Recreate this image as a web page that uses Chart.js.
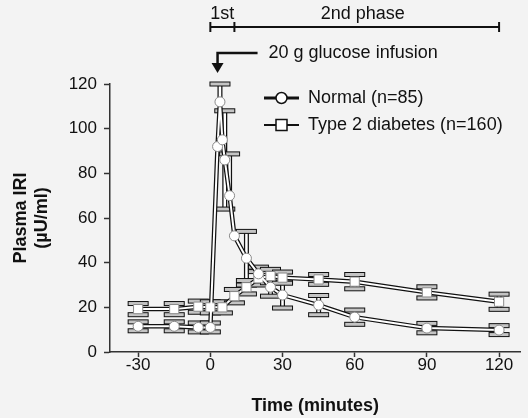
<!DOCTYPE html>
<html>
<head>
<meta charset="utf-8">
<script src="https://cdn.jsdelivr.net/npm/chart.js@4.4.1/dist/chart.umd.min.js"></script>
<style>
  html, body { margin: 0; padding: 0; background: #f3f3f3; }
  #wrap { width: 528px; height: 418px; }
</style>
</head>
<body>
<div id="wrap"><canvas id="iriChart" width="528" height="418"></canvas></div>
<script>
const xTicks = [-30, 0, 30, 60, 90, 120];
const yTicks = [0, 20, 40, 60, 80, 100, 120];

// Normal subjects (circles)
const normalTime   = [-30, -15, -5, 0, 3, 4, 5, 6, 8, 10, 15, 20, 25, 30, 45, 60, 90, 120];
const normalIRI    = [11.5, 11.5, 11, 11, 92, 112, 95, 86, 70, 52, 42, 35, 29, 25.5, 21, 15.6, 10.7, 9.8];
const normalErrUp  = [2, 2, 2, 2, 0, 8, 0, 22, 18.7, 0, 12, 3, 4, 5.8, 4.3, 3.2, 2.1, 2];
const normalErrLow = [2, 2, 2, 2, 0, 0, 0, 22, 0, 0, 12, 3, 4, 5.8, 4.3, 3.2, 2.1, 2];

// Type 2 diabetes (squares)
const diabTime = [-30, -15, -5, 0, 5, 10, 15, 20, 25, 30, 45, 60, 90, 120];
const diabIRI  = [19.2, 19.2, 20.3, 20, 20, 25, 29, 33, 34, 33.3, 32.5, 31.5, 26.7, 22.5];
const diabErr  = [2.5, 2.5, 2.5, 2.5, 2.5, 3, 3, 3, 3, 2.5, 2.2, 3.2, 2.5, 3.4];

const seriesLabels = ['Normal (n=85)', 'Type 2 diabetes (n=160)'];
const phaseLabels = ['1st', '2nd phase'];
const phaseBounds = [0, 10, 120];   // minutes
const infusionTime = 3;
const infusionLabel = '20 g glucose infusion';

const FONT = '"Liberation Sans", Arial, Helvetica, sans-serif';

function toPoints(times, values) {
  return times.map((t, i) => ({ x: t, y: values[i] }));
}

function seg(ctx, x1, y1, x2, y2) {
  ctx.beginPath();
  ctx.moveTo(x1, y1);
  ctx.lineTo(x2, y2);
  ctx.stroke();
}

// I-beam error bars, drawn under the lines
const errorBars = {
  id: 'errorBars',
  beforeDatasetsDraw(chart) {
    const { ctx, scales: { x, y } } = chart;
    const sets = [
      [normalTime, normalIRI, normalErrUp, normalErrLow],
      [diabTime, diabIRI, diabErr, diabErr]
    ];
    ctx.save();
    sets.forEach(([times, vals, up, low]) => {
      times.forEach((t, i) => {
        if (!up[i] && !low[i]) return;
        const px = x.getPixelForValue(t);
        const top = y.getPixelForValue(vals[i] + up[i]);
        const bot = y.getPixelForValue(vals[i] - low[i]);
        ctx.strokeStyle = '#111';
        ctx.lineWidth = 5;
        seg(ctx, px, top, px, bot);
        ctx.strokeStyle = '#fff';
        ctx.lineWidth = 2.5;
        seg(ctx, px, top, px, bot);
        const caps = [];
        if (up[i]) caps.push(top);
        if (low[i]) caps.push(bot);
        caps.forEach(cy => {
          ctx.fillStyle = '#c4c4c4';
          ctx.fillRect(px - 10, cy - 2, 20, 4);
          ctx.strokeStyle = '#111';
          ctx.lineWidth = 1;
          ctx.strokeRect(px - 10, cy - 2, 20, 4);
        });
      });
    });
    ctx.restore();
  }
};

// phase bracket, infusion arrow and legend
const annotations = {
  id: 'annotations',
  afterDraw(chart) {
    const { ctx, scales: { x } } = chart;
    const xs = phaseBounds.map(v => x.getPixelForValue(v));
    ctx.save();
    ctx.strokeStyle = '#111';
    ctx.fillStyle = '#111';
    ctx.lineWidth = 2;
    seg(ctx, xs[0], 27, xs[2], 27);
    xs.forEach(px => seg(ctx, px, 22, px, 32));

    ctx.font = '18px ' + FONT;
    ctx.textBaseline = 'middle';
    ctx.textAlign = 'left';
    ctx.fillText(phaseLabels[0], xs[0], 14);
    ctx.textAlign = 'center';
    ctx.fillText(phaseLabels[1], (xs[1] + xs[2]) / 2 - 4, 14);

    // arrow
    const ax = x.getPixelForValue(infusionTime);
    ctx.lineWidth = 2.5;
    ctx.beginPath();
    ctx.moveTo(ax + 40, 53);
    ctx.lineTo(ax, 53);
    ctx.lineTo(ax, 65);
    ctx.stroke();
    ctx.beginPath();
    ctx.moveTo(ax - 6, 63);
    ctx.lineTo(ax + 6, 63);
    ctx.lineTo(ax, 73);
    ctx.closePath();
    ctx.fill();
    ctx.textAlign = 'left';
    ctx.fillText(infusionLabel, ax + 51, 53);

    // legend
    const rows = [
      { label: seriesLabels[0], y: 98, lw: 3, style: 'circle' },
      { label: seriesLabels[1], y: 125, lw: 2, style: 'rect' }
    ];
    rows.forEach(r => {
      ctx.strokeStyle = '#111';
      ctx.lineWidth = r.lw;
      seg(ctx, 264, r.y, 299, r.y);
      ctx.fillStyle = '#fff';
      ctx.lineWidth = 1.5;
      ctx.beginPath();
      if (r.style === 'circle') {
        ctx.arc(281.5, r.y, 5.5, 0, Math.PI * 2);
      } else {
        ctx.rect(276, r.y - 5.5, 11, 11);
      }
      ctx.fill();
      ctx.stroke();
      ctx.fillStyle = '#111';
      ctx.textAlign = 'left';
      ctx.fillText(r.label, 308, r.y);
    });
    ctx.restore();
  }
};

const normalPts = toPoints(normalTime, normalIRI);
const diabPts = toPoints(diabTime, diabIRI);

new Chart(document.getElementById('iriChart'), {
  type: 'line',
  data: {
    datasets: [
      {
        label: seriesLabels[0],
        data: normalPts,
        borderColor: '#fff',
        borderWidth: 2,
        pointStyle: 'circle',
        pointRadius: 5,
        pointBackgroundColor: '#fff',
        pointBorderColor: '#8a8a8a',
        pointBorderWidth: 1,
        order: 1
      },
      {
        label: seriesLabels[1],
        data: diabPts,
        borderColor: '#fff',
        borderWidth: 2,
        pointStyle: 'rect',
        pointRadius: 6.5,
        pointBackgroundColor: '#fff',
        pointBorderColor: '#8a8a8a',
        pointBorderWidth: 1,
        order: 1
      },
      { data: normalPts, borderColor: '#111', borderWidth: 4.5, pointRadius: 0, order: 2 },
      { data: diabPts, borderColor: '#111', borderWidth: 4.5, pointRadius: 0, order: 2 }
    ]
  },
  options: {
    responsive: false,
    animation: false,
    devicePixelRatio: 1,
    layout: { padding: { top: 84, right: 5, left: 0, bottom: 0 } },
    plugins: {
      legend: { display: false },
      tooltip: { enabled: false }
    },
    elements: { line: { tension: 0 } },
    scales: {
      x: {
        type: 'linear',
        min: -41.7,
        max: 128.9,
        afterBuildTicks: s => { s.ticks = xTicks.map(v => ({ value: v })); },
        afterFit: s => { s.height = 66; },
        grid: { drawOnChartArea: false, tickLength: 5, tickWidth: 1.5, tickColor: '#333' },
        border: { color: '#333', width: 1.5 },
        ticks: {
          color: '#111', padding: 0, maxRotation: 0, autoSkip: false,
          font: { family: FONT, size: 17, lineHeight: 1 }
        },
        title: {
          display: true, text: 'Time (minutes)', color: '#111',
          font: { family: FONT, size: 18, weight: 'bold', lineHeight: 1.2 },
          padding: { top: 0, bottom: 1 }
        }
      },
      y: {
        min: 0,
        max: 120,
        afterBuildTicks: s => { s.ticks = yTicks.map(v => ({ value: v })); },
        afterFit: s => { s.width = 110; },
        grid: { drawOnChartArea: false, tickLength: 6, tickWidth: 1.5, tickColor: '#333' },
        border: { color: '#333', width: 1.5 },
        ticks: {
          color: '#111', padding: 7,
          font: { family: FONT, size: 17, lineHeight: 1 }
        },
        title: {
          display: true, text: ['Plasma IRI', '(µU/ml)'], color: '#111',
          font: { family: FONT, size: 18, weight: 'bold', lineHeight: 1.2 },
          padding: { top: 10, bottom: 0 }
        }
      }
    }
  },
  plugins: [errorBars, annotations]
});
</script>
</body>
</html>
